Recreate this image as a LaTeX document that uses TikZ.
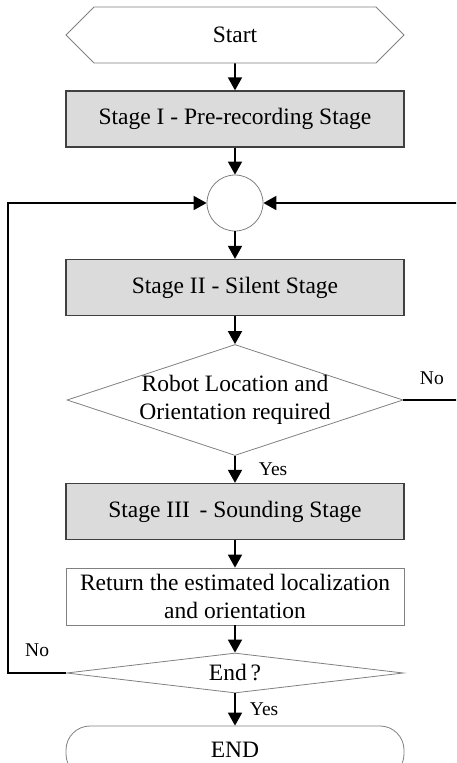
\documentclass[tikz,border=0pt]{standalone}
\usepackage{fontspec}
\setmainfont{Liberation Serif}
\usetikzlibrary{positioning, shapes.geometric, shapes.symbols, arrows.meta}

\begin{document}
\begin{tikzpicture}[x=1pt, y=-1pt,
      font=\fontsize{23.5}{28}\selectfont,
      terminal/.style={signal, signal to=east and west, signal pointer angle=90,
        draw=black!50, line width=0.8pt, minimum width=338pt, minimum height=56pt, inner sep=0pt},
      stagebox/.style={rectangle, draw=black!75, line width=1.3pt, fill=black!14,
        minimum width=338pt, minimum height=56pt, inner sep=0pt},
      plainbox/.style={rectangle, draw=black!50, line width=0.8pt, align=center,
        minimum width=338pt, minimum height=57pt, inner sep=0pt},
      decision/.style={diamond, draw=black!50, line width=0.8pt, inner sep=0pt},
      junction/.style={circle, draw=black!50, line width=0.8pt, minimum size=56pt, inner sep=0pt},
      note/.style={font=\fontsize{19.5}{23}\selectfont, inner sep=2pt},
      arrow/.style={-{Triangle[length=13pt, width=14pt]}, line width=1.8pt}
    ]
      \useasboundingbox (0,0) rectangle (456,763);
      \clip (0,0) rectangle (456,763);

      \node[terminal] (start) at (235,35) {Start};
      \node[stagebox] (stageI) at (235,119) {Stage I - Pre-recording Stage};
      \node[junction] (merge) at (235,203) {};
      \node[stagebox] (stageII) at (235,287.5) {Stage II - Silent Stage};
      \node[decision, minimum width=336pt, minimum height=111pt,
        label={[align=center]center:Robot Location and\\Orientation required}] (dec) at (235,400) {};
      \node[stagebox] (stageIII) at (235,511.5) {Stage III\, - Sounding Stage};
      \node[plainbox] (ret) at (235,596.5) {Return the estimated localization\\and orientation};
      \node[decision, minimum width=337pt, minimum height=40pt,
        label={center:End\,?}] (endq) at (235,673) {};
      \node[plainbox, rounded corners=24pt, minimum height=52pt,
        label={[yshift=2pt]center:END}] (stop) at (235,752) {};

      \draw[arrow] (start) -- (stageI);
      \draw[arrow] (stageI) -- (merge);
      \draw[arrow] (merge) -- (stageII);
      \draw[arrow] (stageII) -- (dec);
      \draw[arrow] (dec) -- node[note, right=21pt] {Yes} (stageIII);
      \draw[arrow] (stageIII) -- (ret);
      \draw[arrow] (ret) -- (endq);
      \draw[arrow] (endq) -- node[note, right=12pt] {Yes} (stop);

      % loop back to the junction
      \draw[arrow] (dec.east) -- node[note, above=12pt] {No} ++(57,0) |- (merge.east);
      \draw[arrow] (endq.west) -- node[note, above=13pt] {No} ++(-58,0) |- (merge.west);
    \end{tikzpicture}
\end{document}
